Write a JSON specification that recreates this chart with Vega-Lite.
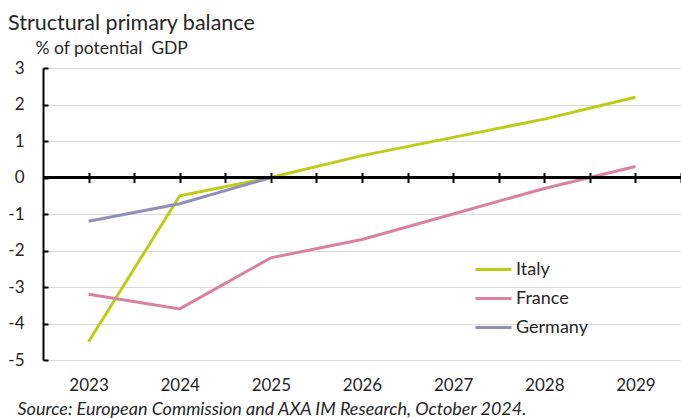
{
  "$schema": "https://vega.github.io/schema/vega-lite/v6.json",
  "width": 638,
  "height": 292,
  "autosize": "none",
  "padding": {"left": 43, "top": 68, "right": 0, "bottom": 58},
  "background": "white",
  "config": {
    "font": "Lato",
    "view": {"stroke": null},
    "axis": {"labelOverlap": false}
  },
  "title": {
    "text": "Structural primary balance",
    "anchor": "start",
    "frame": "group",
    "dx": -35,
    "dy": -1,
    "fontSize": 21.5,
    "fontWeight": "normal",
    "color": "#262626",
    "font": "Lato"
  },
  "data": {
    "values": [
      {"year": 2023, "country": "Italy", "value": -4.5},
      {"year": 2024, "country": "Italy", "value": -0.5},
      {"year": 2025, "country": "Italy", "value": 0.0},
      {"year": 2026, "country": "Italy", "value": 0.6},
      {"year": 2027, "country": "Italy", "value": 1.1},
      {"year": 2028, "country": "Italy", "value": 1.6},
      {"year": 2029, "country": "Italy", "value": 2.2},
      {"year": 2023, "country": "France", "value": -3.2},
      {"year": 2024, "country": "France", "value": -3.6},
      {"year": 2025, "country": "France", "value": -2.2},
      {"year": 2026, "country": "France", "value": -1.7},
      {"year": 2027, "country": "France", "value": -1.0},
      {"year": 2028, "country": "France", "value": -0.3},
      {"year": 2029, "country": "France", "value": 0.3},
      {"year": 2023, "country": "Germany", "value": -1.2},
      {"year": 2024, "country": "Germany", "value": -0.72},
      {"year": 2025, "country": "Germany", "value": 0.0}
    ]
  },
  "resolve": {"axis": {"x": "independent", "y": "independent"}},
  "layer": [
    {
      "mark": {"type": "line", "strokeWidth": 3},
      "encoding": {
        "x": {
          "field": "year",
          "type": "quantitative",
          "scale": {"domain": [2022.5, 2029.5], "nice": false, "zero": false},
          "axis": {
            "values": [2023, 2024, 2025, 2026, 2027, 2028, 2029],
            "format": "d",
            "grid": false,
            "ticks": false,
            "domain": false,
            "labelFontSize": 17,
            "labelColor": "#262626",
            "labelPadding": 17,
            "title": "Source: European Commission and AXA IM Research, October 2024.",
            "titleFontStyle": "italic",
            "titleFontWeight": "normal",
            "titleFontSize": 18,
            "titleColor": "#262626",
            "titleAnchor": "start",
            "titleAlign": "left",
            "titleBaseline": "alphabetic",
            "titleX": -26,
            "titleY": 54
          }
        },
        "y": {
          "field": "value",
          "type": "quantitative",
          "scale": {"domain": [-5, 3], "nice": false, "zero": false},
          "axis": {
            "values": [-5, -4, -3, -2, -1, 0, 1, 2, 3],
            "labelExpr": "'' + datum.value",
            "labelOverlap": false,
            "grid": true,
            "gridColor": "#d9d9d9",
            "gridWidth": 1,
            "domainColor": "#000000",
            "domainWidth": 2,
            "tickColor": "#000000",
            "tickWidth": 2,
            "tickSize": -5,
            "labelFontSize": 17,
            "labelColor": "#262626",
            "labelPadding": 24,
            "title": "% of potential\u00a0 GDP",
            "titleAngle": 0,
            "titleAlign": "left",
            "titleBaseline": "alphabetic",
            "titleFontSize": 17.5,
            "titleFontWeight": "normal",
            "titleColor": "#262626",
            "titleX": -8,
            "titleY": -15
          }
        },
        "color": {
          "field": "country",
          "type": "nominal",
          "scale": {
            "domain": ["Italy", "France", "Germany"],
            "range": ["#bdcc14", "#d9819f", "#8f8fb8"]
          },
          "legend": {
            "title": null,
            "orient": "none",
            "legendX": 431,
            "legendY": 182,
            "padding": 0,
            "symbolType": "stroke",
            "symbolSize": 1296,
            "symbolStrokeWidth": 3,
            "labelFontSize": 18,
            "labelColor": "#262626",
            "labelOffset": 3,
            "rowPadding": -6
          }
        }
      }
    },
    {
      "mark": {"type": "rule", "color": "#000000", "strokeWidth": 2},
      "encoding": {
        "y": {"datum": 0, "type": "quantitative", "axis": null},
        "x": {
          "datum": 2022.5,
          "type": "quantitative",
          "axis": {
            "orient": "bottom",
            "values": [2023, 2023.5, 2024, 2024.5, 2025, 2025.5, 2026, 2026.5, 2027, 2027.5, 2028, 2028.5, 2029, 2029.5],
            "labels": false,
            "domain": false,
            "grid": false,
            "ticks": true,
            "tickColor": "#000000",
            "tickWidth": 2,
            "tickSize": 10,
            "offset": -187.5,
            "title": null
          }
        },
        "x2": {"datum": 2029.5}
      }
    }
  ]
}
